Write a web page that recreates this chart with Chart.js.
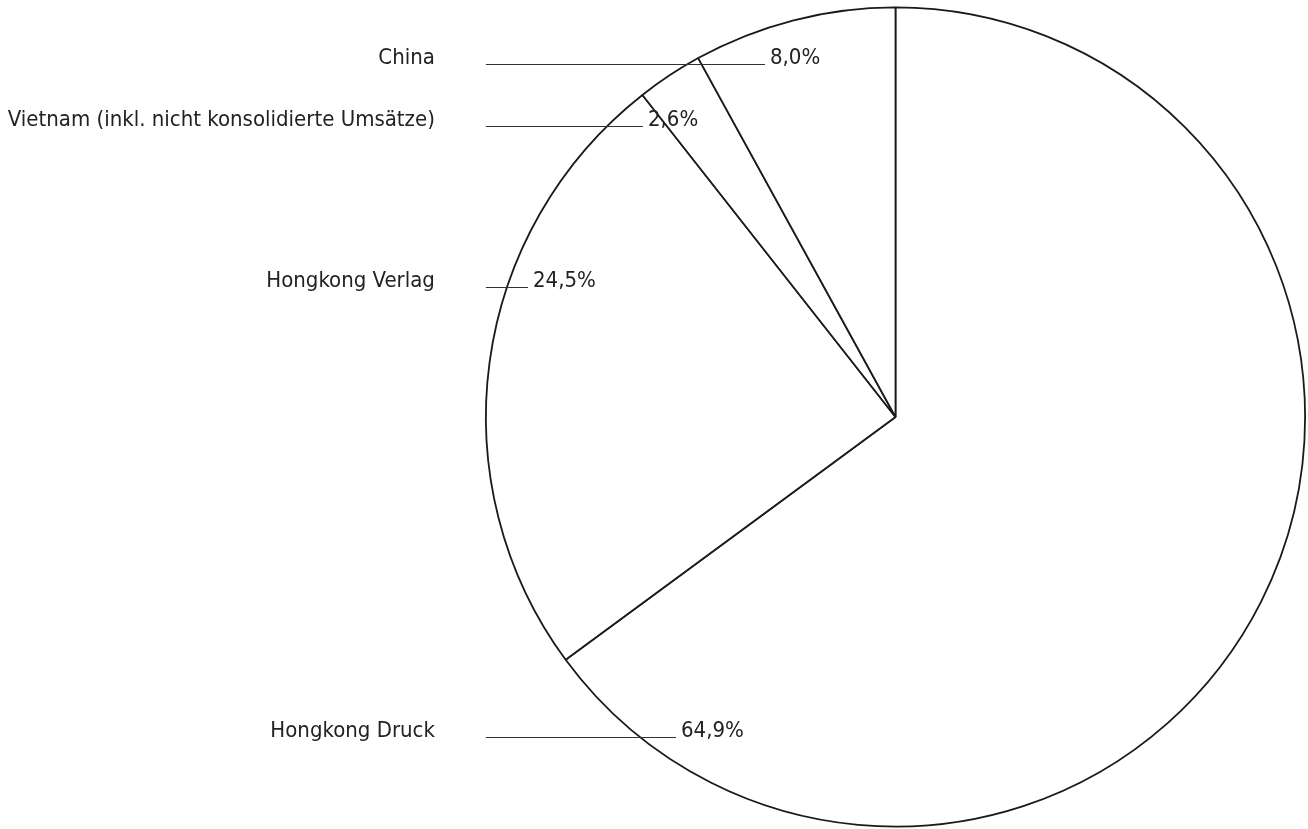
<!DOCTYPE html>
<html>
<head>
<meta charset="utf-8">
<script src="https://cdn.jsdelivr.net/npm/chart.js@4/dist/chart.umd.min.js"></script>
<style>
  html, body { margin: 0; padding: 0; background: #fff; }
  #wrap { width: 1308px; height: 829px; position: relative; }
</style>
</head>
<body>
<div id="wrap"><canvas id="c" width="1308" height="829"></canvas></div>
<script>
// Umsatzanteile nach Segment (Reihenfolge im Uhrzeigersinn ab 12 Uhr)
const categories = ['Hongkong Druck', 'Hongkong Verlag', 'Vietnam (inkl. nicht konsolidierte Umsätze)', 'China'];
const shares = [64.9, 24.5, 2.6, 8.0];

// Beschriftungszeilen links: Höhe der Führungslinie und Ende der Linie
const labelRows = {
  'China': { y: 64, lineEnd: 765 },
  'Vietnam (inkl. nicht konsolidierte Umsätze)': { y: 126, lineEnd: 643 },
  'Hongkong Verlag': { y: 287, lineEnd: 528 },
  'Hongkong Druck': { y: 737, lineEnd: 676 }
};

const FONT = '"DejaVu Sans Condensed", "Liberation Sans Narrow", sans-serif';

const fmt = v => v.toFixed(1).replace('.', ',') + '%';

const sideLabels = {
  id: 'sideLabels',
  afterDraw(chart) {
    const ctx = chart.ctx;
    const meta = chart.getDatasetMeta(0);
    const left = meta.data[0].x - meta.data[0].outerRadius;
    ctx.save();
    chart.data.labels.forEach((name, i) => {
      const row = labelRows[name];
      // Führungslinie
      ctx.strokeStyle = '#333';
      ctx.lineWidth = 1;
      ctx.beginPath();
      ctx.moveTo(left, row.y + 0.5);
      ctx.lineTo(row.lineEnd, row.y + 0.5);
      ctx.stroke();
      // Segmentname
      ctx.fillStyle = '#222';
      ctx.font = '22px ' + FONT;
      ctx.textBaseline = 'alphabetic';
      ctx.textAlign = 'right';
      ctx.fillText(name, left - 51, row.y);
      // Prozentwert
      ctx.textAlign = 'left';
      ctx.fillText(fmt(chart.data.datasets[0].data[i]), row.lineEnd + 5, row.y);
    });
    ctx.restore();
  }
};

new Chart(document.getElementById('c'), {
  type: 'pie',
  data: {
    labels: categories,
    datasets: [{
      data: shares,
      backgroundColor: '#ffffff',
      borderColor: '#1a1a1a',
      borderWidth: 1.8
    }]
  },
  options: {
    responsive: false,
    animation: false,
    layout: { padding: { left: 485, right: 2, top: 6, bottom: 1 } },
    plugins: {
      legend: { display: false },
      tooltip: { enabled: false }
    }
  },
  plugins: [sideLabels]
});
</script>
</body>
</html>
